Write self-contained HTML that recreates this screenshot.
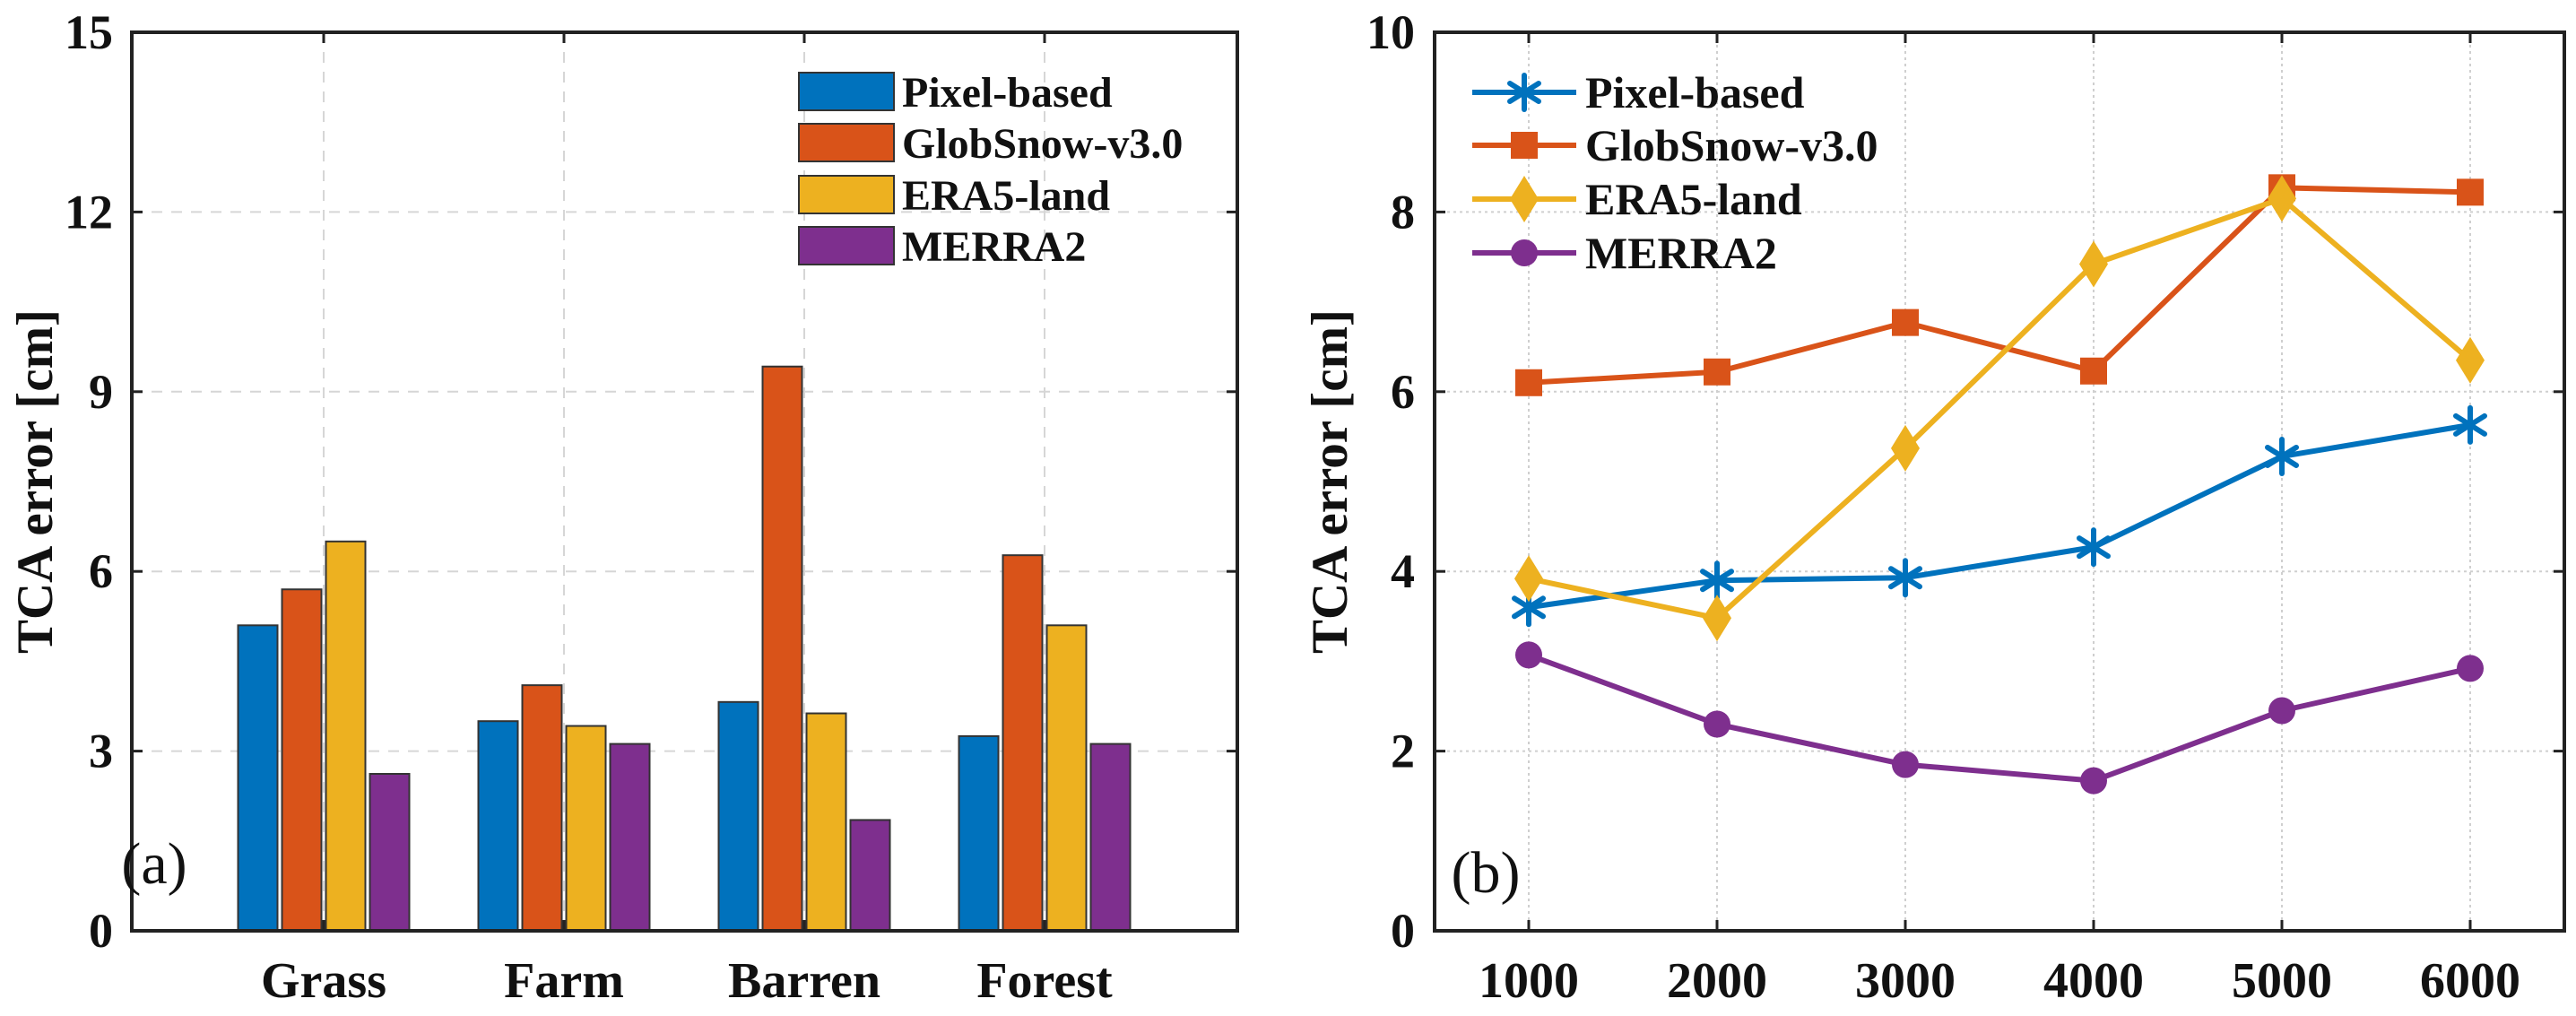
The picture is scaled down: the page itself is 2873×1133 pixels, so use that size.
<!DOCTYPE html>
<html><head><meta charset="utf-8"><style>
html,body{margin:0;padding:0;background:#fff}
svg{display:block}
text{font-family:"Liberation Serif",serif;fill:#111}
</style></head><body>
<svg id="fig" width="2873" height="1133" viewBox="0 0 2873 1133" xmlns="http://www.w3.org/2000/svg">
<g id="left"></g>
<g id="right"></g>
</svg>
<script>
const categories = ["Grass","Farm","Barren","Forest"];
const seriesNames = ["Pixel-based","GlobSnow-v3.0","ERA5-land","MERRA2"];
const barPixel = [5.1,3.5,3.82,3.25];
const barGlob = [5.7,4.1,9.42,6.27];
const barEra = [6.5,3.42,3.63,5.1];
const barMerra = [2.62,3.12,1.85,3.12];
const leftYTicks = [0,3,6,9,12,15];

const elevations = [1000,2000,3000,4000,5000,6000];
const linePixel = [3.6,3.9,3.93,4.27,5.28,5.63];
const lineGlob = [6.1,6.22,6.77,6.23,8.27,8.22];
const lineEra = [3.92,3.48,5.37,7.42,8.15,6.35];
const lineMerra = [3.07,2.3,1.85,1.67,2.45,2.92];
const rightYTicks = [0,2,4,6,8,10];

const colors = ["#0072BD","#D95319","#EDB120","#7E2F8E"];
const NS="http://www.w3.org/2000/svg";
function mk(parent,tag,attrs,txt){const e=document.createElementNS(NS,tag);for(const k in attrs)e.setAttribute(k,attrs[k]);if(txt!==undefined)e.textContent=txt;parent.appendChild(e);return e;}

// ---------- Left chart ----------
const L=document.getElementById('left');
const LX0=147,LX1=1380,LY0=36,LY1=1038;
const ly=v=>LY1-(v/15)*(LY1-LY0);
const lx=i=>361+268*i;
leftYTicks.forEach(t=>{ if(t>0&&t<15){const g=mk(L,'line',{x1:LX0,x2:LX1,y1:ly(t),y2:ly(t),stroke:'#d6d6d6','stroke-width':2,'stroke-dasharray':'12 10'});

}});
categories.forEach((c,i)=>{const g=mk(L,'line',{x1:lx(i),x2:lx(i),y1:LY0,y2:LY1,stroke:'#d6d6d6','stroke-width':2,'stroke-dasharray':'12 10'});

});
const barSeries=[barPixel,barGlob,barEra,barMerra];
const offs=[-73.5,-24.5,24.5,73.5];
barSeries.forEach((s,si)=>{s.forEach((v,i)=>{
 const r=mk(L,'rect',{x:lx(i)+offs[si]-22,y:ly(v),width:44,height:LY1-ly(v),fill:colors[si],stroke:'#333','stroke-width':2});
 
 
});});
const lb=mk(L,'rect',{x:LX0,y:LY0,width:LX1-LX0,height:LY1-LY0,fill:'none',stroke:'#222','stroke-width':4});


leftYTicks.forEach(t=>{
 mk(L,'line',{x1:LX0,x2:LX0+12,y1:ly(t),y2:ly(t),stroke:'#222','stroke-width':3});
 mk(L,'line',{x1:LX1,x2:LX1-12,y1:ly(t),y2:ly(t),stroke:'#222','stroke-width':3});
 const tl=mk(L,'text',{x:126,y:ly(t)+18,'text-anchor':'end','font-size':54,'font-weight':'bold'},String(t));
 
 
});
categories.forEach((c,i)=>{
 mk(L,'line',{x1:lx(i),x2:lx(i),y1:LY1,y2:LY1-12,stroke:'#222','stroke-width':3});
 mk(L,'line',{x1:lx(i),x2:lx(i),y1:LY0,y2:LY0+12,stroke:'#222','stroke-width':3});
 const tl=mk(L,'text',{x:lx(i),y:1112,'text-anchor':'middle','font-size':56,'font-weight':'bold'},c);
 
 
});
const lyt=mk(L,'text',{x:0,y:0,'text-anchor':'middle','font-size':57,'font-weight':'bold',transform:'translate(58,537) rotate(-90)'},'TCA error [cm]');


const pa=mk(L,'text',{x:172,y:985,'text-anchor':'middle','font-size':66},'(a)');


const legRowsL=[102,159,217,274];
seriesNames.forEach((n,i)=>{
 const r=mk(L,'rect',{x:891,y:legRowsL[i]-21,width:106,height:42,fill:colors[i],stroke:'#333','stroke-width':2});
 
 
 const t=mk(L,'text',{x:1006,y:legRowsL[i]+17,'font-size':48,'font-weight':'bold'},n);
 
 
});

// ---------- Right chart ----------
const R=document.getElementById('right');
const RX0=1600,RX1=2860,RY0=36,RY1=1038;
const rx=v=>RX0+(v-500)/6000*(RX1-RX0);
const ry=v=>RY1-(v/10)*(RY1-RY0);
rightYTicks.forEach(t=>{ if(t>0&&t<10){const g=mk(R,'line',{x1:RX0,x2:RX1,y1:ry(t),y2:ry(t),stroke:'#cfcfcf','stroke-width':2,'stroke-dasharray':'3 4'});

}});
elevations.forEach(e=>{const g=mk(R,'line',{x1:rx(e),x2:rx(e),y1:RY0,y2:RY1,stroke:'#cfcfcf','stroke-width':2,'stroke-dasharray':'3 4'});

});
const rb=mk(R,'rect',{x:RX0,y:RY0,width:RX1-RX0,height:RY1-RY0,fill:'none',stroke:'#222','stroke-width':4});


rightYTicks.forEach(t=>{
 mk(R,'line',{x1:RX0,x2:RX0+12,y1:ry(t),y2:ry(t),stroke:'#222','stroke-width':3});
 mk(R,'line',{x1:RX1,x2:RX1-12,y1:ry(t),y2:ry(t),stroke:'#222','stroke-width':3});
 const tl=mk(R,'text',{x:1578,y:ry(t)+18,'text-anchor':'end','font-size':54,'font-weight':'bold'},String(t));
 
 
});
elevations.forEach(e=>{
 mk(R,'line',{x1:rx(e),x2:rx(e),y1:RY1,y2:RY1-12,stroke:'#222','stroke-width':3});
 mk(R,'line',{x1:rx(e),x2:rx(e),y1:RY0,y2:RY0+12,stroke:'#222','stroke-width':3});
 const tl=mk(R,'text',{x:rx(e),y:1112,'text-anchor':'middle','font-size':56,'font-weight':'bold'},String(e));
 
 
});
const ryt=mk(R,'text',{x:0,y:0,'text-anchor':'middle','font-size':57,'font-weight':'bold',transform:'translate(1502,537) rotate(-90)'},'TCA error [cm]');


const pb=mk(R,'text',{x:1657,y:995,'text-anchor':'middle','font-size':66},'(b)');



function marker(parent,kind,x,y,c){
 if(kind===0){
  const g=mk(parent,'g',{stroke:c,'stroke-width':6,'stroke-linecap':'round'});
  [[0,-19],[16,-10],[16,10]].forEach(([dx,dy])=>mk(g,'line',{x1:x-dx,y1:y-dy,x2:x+dx,y2:y+dy}));
  return g;
 }
 if(kind===1) return mk(parent,'rect',{x:x-15,y:y-15,width:30,height:30,fill:c});
 if(kind===2) return mk(parent,'polygon',{points:`${x},${y-26} ${x+16},${y} ${x},${y+26} ${x-16},${y}`,fill:c});
 return mk(parent,'circle',{cx:x,cy:y,r:15,fill:c});
}
const lineSeries=[linePixel,lineGlob,lineEra,lineMerra];
const drawOrder=[3,0,1,2];
drawOrder.forEach(si=>{
 const s=lineSeries[si];
 const pts=s.map((v,i)=>rx(elevations[i])+','+ry(v)).join(' ');
 const pl=mk(R,'polyline',{points:pts,fill:'none',stroke:colors[si],'stroke-width':6,'stroke-linejoin':'round'});
 
 
 s.forEach((v,i)=>{
  const m=marker(R,si,rx(elevations[i]),ry(v),colors[si]);
  
  
 });
});
const legRowsR=[103,162,222,282];
seriesNames.forEach((n,i)=>{
 const l=mk(R,'line',{x1:1642,x2:1758,y1:legRowsR[i],y2:legRowsR[i],stroke:colors[i],'stroke-width':6});
 
 
 const m=marker(R,i,1700,legRowsR[i],colors[i]);
 
 
 const t=mk(R,'text',{x:1768,y:legRowsR[i]+17,'font-size':50,'font-weight':'bold'},n);
 
 
});
</script>
</body></html>
